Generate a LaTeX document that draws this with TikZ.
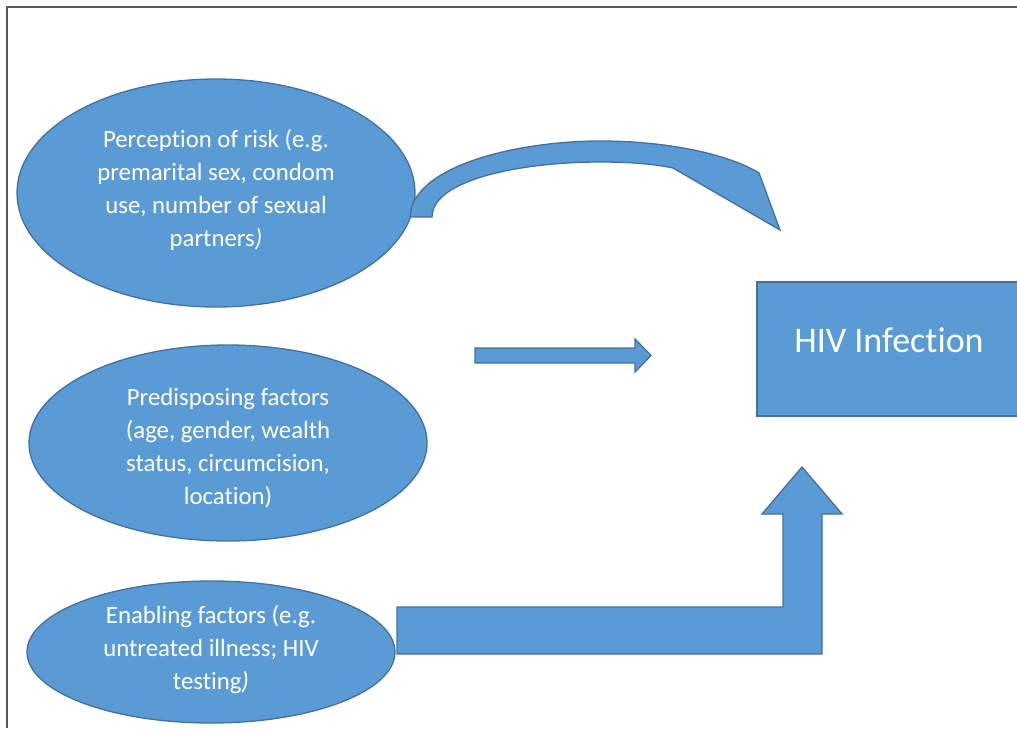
\documentclass[tikz,border=0pt]{standalone}
\usepackage{fontspec}
\setmainfont{Carlito}[Ligatures={NoCommon}]
\usetikzlibrary{shapes,positioning,calc}
\definecolor{boxblue}{HTML}{5B9BD5}
\definecolor{boxedge}{HTML}{41719C}
\newcommand{\shiftup}[2]{\raisebox{#1}[\height][\depth]{#2}}
\tikzset{
  factor/.style={ellipse, draw=boxedge, fill=boxblue, line width=1.3pt, text=white,
    align=center, inner sep=0pt, font=\fontsize{24.8}{33}\selectfont},
  blockarrow/.style={draw=boxedge, fill=boxblue, line width=1.3pt, line join=miter},
}

\begin{document}
\begin{tikzpicture}[x=1pt,y=-1pt]
        \useasboundingbox (0,0) rectangle (1017,728);
        \draw[line width=1.5pt, black!65] (7,728) -- (7,7) -- (1017,7);

        \node[factor, minimum width=398, minimum height=228] (risk) at (216,193)
            {\shiftup{3pt}{\parbox{260pt}{\centering Perception of risk (e.g.\\ premarital sex, condom\\ use, number of sexual\\ partners\textit{)}}}};
        \node[factor, minimum width=398, minimum height=196] (predisp) at (228,443)
            {\shiftup{-5pt}{\parbox{260pt}{\centering Predisposing factors\\ (age, gender, wealth\\ status, circumcision,\\ location)}}};
        \node[factor, minimum width=368, minimum height=142] (enabl) at (211,652)
            {\shiftup{2pt}{\parbox{260pt}{\centering Enabling factors (e.g.\\ untreated illness; HIV\\ testing\textit{)}}}};

        \node[draw=boxedge, fill=boxblue, line width=1.3pt, minimum width=264, minimum height=134,
            text=white, font=\fontsize{36}{40}\selectfont] (hiv) at (889,349) {\shiftup{9pt}{HIV Infection}};

        % block arrows
        \draw[blockarrow] (410,217) .. controls (412,165) and (520,141) .. (600,141)
            .. controls (670,141) and (730,155) .. (759,173) -- (780,230) -- (673,168)
            .. controls (655,164) and (630,162) .. (600,162)
            .. controls (520,162) and (432,180) .. (432,217) -- cycle;

        \draw[blockarrow] (475,348) -- (635,348) -- (635,339) -- (651,355.5) -- (635,372)
            -- (635,363) -- (475,363) -- cycle;

        \draw[blockarrow] (397,607) -- (783,607) -- (783,514) -- (762,514) -- (802,467)
            -- (842,514) -- (822,514) -- (822,654) -- (397,654) -- cycle;
\end{tikzpicture}
\end{document}
